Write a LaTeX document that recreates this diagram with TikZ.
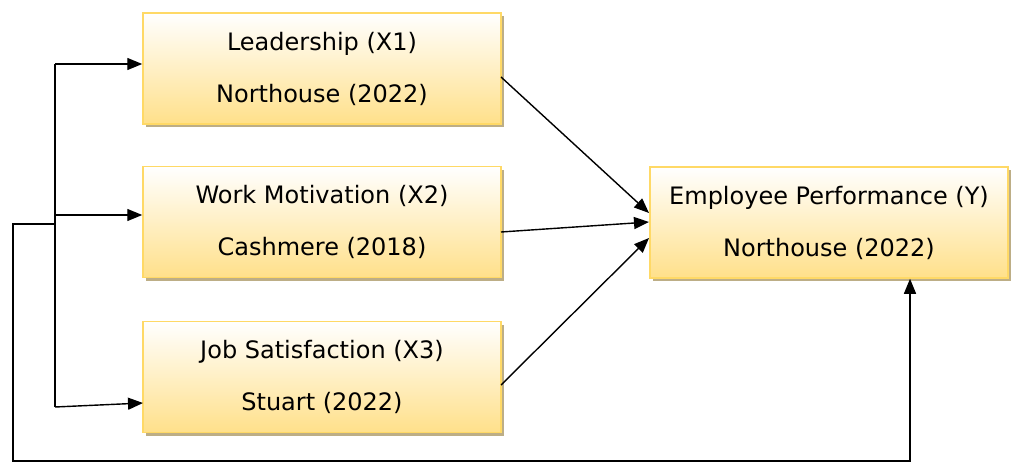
\documentclass[tikz,border=0pt]{standalone}
\usepackage{fontspec}
\setmainfont{DejaVu Sans}
\usetikzlibrary{arrows.meta,shadows}
\definecolor{boxbot}{HTML}{FFE08A}
\definecolor{boxline}{HTML}{FFD966}
\definecolor{shadowc}{HTML}{BDAE86}
\tikzset{
  varbox/.style={rectangle, draw=boxline, line width=1.5pt,
    top color=white, bottom color=boxbot, middle color=boxbot!50,
    minimum width=358pt, minimum height=111pt, inner sep=0pt,
    align=center, font=\fontsize{24}{52}\selectfont,
    drop shadow={fill=shadowc, opacity=1, shadow xshift=3pt, shadow yshift=-3pt}},
  arr/.style={line width=1.4pt, -{Triangle[length=15pt,width=12pt]}},
  ln/.style={line width=1.4pt}
}
\begin{document}
\begin{tikzpicture}[x=1pt,y=-1pt]
\useasboundingbox (0,0) rectangle (1011,463);
\node[varbox] (b1) at (322,68.5) {Leadership (X1)\\Northouse (2022)};
\node[varbox] (b2) at (322,222) {Work Motivation (X2)\\Cashmere (2018)};
\node[varbox] (b3) at (322,377) {Job Satisfaction (X3)\\Stuart (2022)};
\node[varbox] (b4) at (829,222.5) {Employee Performance (Y)\\Northouse (2022)};
% bus
\coordinate (t1) at (55,64);
\coordinate (t2) at (55,215);
\coordinate (tl) at (55,224);
\coordinate (t3) at (55,407);
\coordinate (e3) at (143,403);
\coordinate (lc) at (13,224);
\coordinate (ld) at (13,461);
\coordinate (rd) at (910,461);
\draw[ln] (t3) -- (t1);
\draw[arr] (t1) -- (t1 -| b1.west);
\draw[arr] (t2) -- (t2 -| b2.west);
\draw[arr] (t3) -- (e3);
\draw[arr] (tl) -- (lc) -- (ld) -- (rd) -- (rd |- b4.south);
% convergent arrows
\coordinate (s1) at (501,77);
\coordinate (s2) at (501,232);
\coordinate (s3) at (501,385);
\coordinate (f1) at (649,213);
\coordinate (f2) at (649,222);
\coordinate (f3) at (649,238);
\draw[arr] (s1) -- (f1);
\draw[arr] (s2) -- (f2);
\draw[arr] (s3) -- (f3);
\end{tikzpicture}
\end{document}
